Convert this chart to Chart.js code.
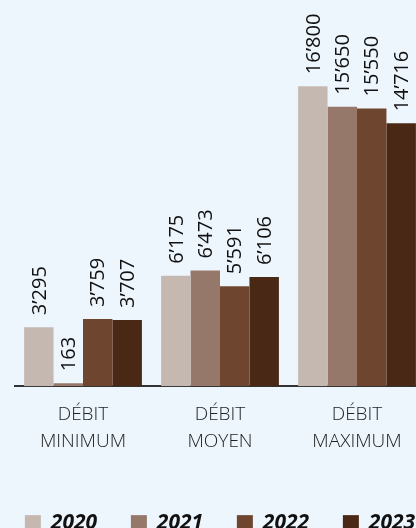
<!DOCTYPE html>
<html>
<head>
<meta charset="utf-8">
<script src="https://cdn.jsdelivr.net/npm/chart.js@4"></script>
<style>
  html, body { margin: 0; padding: 0; background: #EEF6FD; overflow: hidden; }
  #wrap { position: absolute; left: 0; top: 0; width: 440px; height: 545px; }
</style>
</head>
<body>
<div id="wrap"><canvas id="myChart"></canvas></div>
<script>
const categories = [['DÉBIT', 'MINIMUM'], ['DÉBIT', 'MOYEN'], ['DÉBIT', 'MAXIMUM']];
const years = ['2020', '2021', '2022', '2023'];
const v2020 = [3295, 6175, 16800];
const v2021 = [163, 6473, 15650];
const v2022 = [3759, 5591, 15550];
const v2023 = [3707, 6106, 14716];
const colors = ['#C5B8B1', '#957869', '#6E4630', '#4A2816'];

// labels on top of bars, turned to read upwards
const barLabels = {
  id: 'barLabels',
  afterDatasetsDraw(chart) {
    const ctx = chart.ctx;
    ctx.save();
    ctx.font = '20px "Open Sans"';
    ctx.fillStyle = '#111';
    ctx.textAlign = 'left';
    ctx.textBaseline = 'middle';
    chart.data.datasets.forEach(function(ds, i) {
      chart.getDatasetMeta(i).data.forEach(function(bar, j) {
        const txt = ds.data[j].toLocaleString('en-US').replace(/,/g, '\u2019');
        ctx.save();
        ctx.translate(bar.x, bar.y - 12);
        ctx.rotate(-Math.PI / 2);
        ctx.fillText(txt, 0, 1);
        ctx.restore();
      });
    });
    ctx.restore();
  }
};

// legend drawn by hand so it stays on one line
const bottomLegend = {
  id: 'bottomLegend',
  afterDraw(chart) {
    const ctx = chart.ctx;
    const area = chart.chartArea;
    const step = 106;
    ctx.save();
    ctx.font = 'italic bold 21px "Open Sans"';
    ctx.textBaseline = 'middle';
    ctx.textAlign = 'left';
    const n = chart.data.datasets.length;
    const lastW = ctx.measureText(chart.data.datasets[n - 1].label).width;
    const total = (n - 1) * step + 26 + lastW;
    let x = (area.left + area.right) / 2 - total / 2;
    const y = area.bottom + 136;
    chart.data.datasets.forEach(function(ds) {
      ctx.fillStyle = ds.backgroundColor;
      ctx.fillRect(x, y - 7, 16, 16);
      ctx.fillStyle = '#111';
      ctx.fillText(ds.label, x + 26, y + 1);
      x += step;
    });
    ctx.restore();
  }
};

const ctx = document.getElementById('myChart').getContext('2d');
const chart = new Chart(ctx, {
  type: 'bar',
  data: {
    labels: categories,
    datasets: [v2020, v2021, v2022, v2023].map(function(d, i) {
      return { label: years[i], data: d, backgroundColor: colors[i], borderWidth: 0 };
    })
  },
  options: {
    responsive: true,
    maintainAspectRatio: false,
    animation: false,
    categoryPercentage: 0.86,
    barPercentage: 1,
    layout: { padding: { top: 29, left: 14.5, right: 14.5, bottom: 83 } },
    plugins: {
      tooltip: { enabled: false },
      legend: { display: false }
    },
    scales: {
      x: {
        grid: { display: false },
        border: { display: true, color: '#333', width: 2 },
        ticks: {
          color: '#222',
          padding: 6,
          font: { family: 'Open Sans', size: 19, weight: 300, lineHeight: 1.47 }
        }
      },
      y: {
        display: false,
        min: 0,
        max: 20000
      }
    }
  },
  plugins: [barLabels, bottomLegend]
});
</script>
</body>
</html>
